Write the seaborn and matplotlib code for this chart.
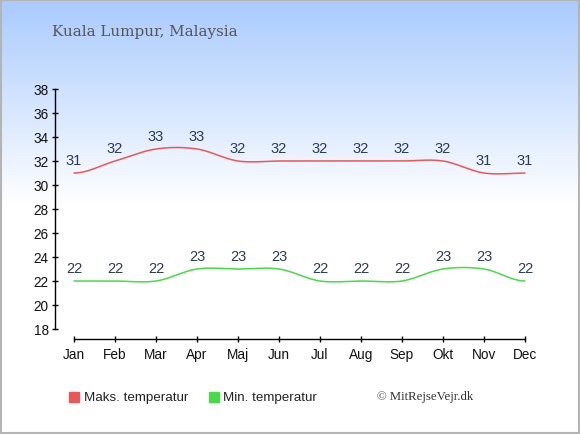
import numpy as np
import pandas as pd
import matplotlib
matplotlib.use("Agg")
import matplotlib.pyplot as plt
import seaborn as sns
from matplotlib.patches import Rectangle

months = ["Jan", "Feb", "Mar", "Apr", "Maj", "Jun", "Jul", "Aug", "Sep", "Okt", "Nov", "Dec"]
max_temp = [31, 32, 33, 33, 32, 32, 32, 32, 32, 32, 31, 31]
min_temp = [22, 22, 22, 23, 23, 23, 22, 22, 22, 23, 23, 22]
yticks = list(range(18, 39, 2))
title = "Kuala Lumpur, Malaysia"
legend_labels = ["Maks. temperatur", "Min. temperatur"]
credit = "\u00a9 MitRejseVejr.dk"

RED = "#ee5555"
GREEN = "#44dd44"
LABEL_COLOR = "#2a3a58"


def smooth(vals, n=24):
    # cubic Hermite (Catmull-Rom style) rendering of the line between data points
    y = np.asarray(vals, dtype=float)
    k = len(y)
    m = np.zeros(k)
    m[1:-1] = (y[2:] - y[:-2]) / 2.0
    xs, ys = [], []
    for i in range(k - 1):
        t = np.linspace(0, 1, n, endpoint=(i == k - 2))
        h00 = 2 * t**3 - 3 * t**2 + 1
        h10 = t**3 - 2 * t**2 + t
        h01 = -2 * t**3 + 3 * t**2
        h11 = t**3 - t**2
        xs.append(i + t)
        ys.append(h00 * y[i] + h10 * m[i] + h01 * y[i + 1] + h11 * m[i + 1])
    return np.concatenate(xs), np.concatenate(ys)


sns.set_theme(style="white")
plt.rcParams["font.family"] = ["Liberation Sans", "DejaVu Sans"]

W, H = 580, 435
fig = plt.figure(figsize=(W / 100, H / 100), dpi=100)

# gradient background
bg = fig.add_axes([0, 0, 1, 1], zorder=-10)
grad = np.ones((H, 1, 3))
top = np.array([0xa9, 0xca, 0xfd]) / 255.0
for r in range(H):
    f = min(r / 205.0, 1.0)
    grad[r, 0, :] = top * (1 - f) + np.ones(3) * f
bg.imshow(grad, aspect="auto", extent=[0, 1, 0, 1], origin="upper")
bg.set_axis_off()
bg.add_patch(Rectangle((0.001, 0.002), 0.997, 0.996, transform=bg.transAxes,
                       fill=False, edgecolor="#b4b4b4", lw=1.5))

# main axes: left at 55 px, right 545 px, y from 90 to 330 px
left, right, topy, bot = 55, 545, 90, 330
ax = fig.add_axes([left / W, (H - bot) / H, (right - left) / W, (bot - topy) / H])
ax.set_facecolor("none")
ppm = (525 - 74) / 11.0
ax.set_xlim(-(74 - left) / ppm, 11 + (right - 525) / ppm)
ax.set_ylim(18, 38)

df = pd.DataFrame({"m": np.arange(12), "max": max_temp, "min": min_temp})
for col, colr in (("max", RED), ("min", GREEN)):
    xs, ys = smooth(df[col].values)
    sns.lineplot(x=xs, y=ys, ax=ax, color=colr, lw=1.1, sort=False)
    for i, v in zip(df["m"], df[col]):
        ax.annotate(str(v), (i, v), xytext=(0, 9.6), textcoords="offset points",
                    ha="center", va="center", fontsize=10.5, color=LABEL_COLOR)

for s in ("top", "right"):
    ax.spines[s].set_visible(False)
ax.spines["left"].set_bounds(18, 38)
ax.spines["bottom"].set_position(("outward", 7.5))
ax.spines["bottom"].set_bounds(0, 11)
for s in ("left", "bottom"):
    ax.spines[s].set_color("black")
    ax.spines[s].set_linewidth(1)

ax.set_yticks(yticks)
ax.set_yticklabels([str(t) for t in yticks])
ax.set_xticks(range(12))
ax.set_xticklabels(months)
ax.tick_params(axis="y", direction="inout", length=5, width=1, color="black",
               labelsize=9.8, labelcolor="#111111", pad=2, left=True)
ax.tick_params(axis="x", direction="inout", length=5, width=1, color="black",
               labelsize=9.8, labelcolor="#111111", pad=3, bottom=True)
ax.set_xlabel("")
ax.set_ylabel("")
ax.grid(False)

# title
fig.text(52 / W, 1 - 32 / H, title, family=["DejaVu Serif"], fontsize=10.9,
         color="#555555", ha="left", va="center")

# legend
ly = 398
for (x0, colr, lab, tx) in ((69, RED, legend_labels[0], 84), (209, GREEN, legend_labels[1], 223)):
    fig.patches.append(Rectangle((x0 / W, 1 - (ly + 5) / H), 10 / W, 10 / H,
                                 transform=fig.transFigure, color=colr, zorder=5))
    fig.text(tx / W, 1 - ly / H, lab, fontsize=9.6, color="#222222",
             ha="left", va="center")
fig.text(377 / W, 1 - 397 / H, credit, family=["Liberation Serif"], fontsize=9.2,
         color="#333333", ha="left", va="center")

fig.savefig("out.png", dpi=100)
